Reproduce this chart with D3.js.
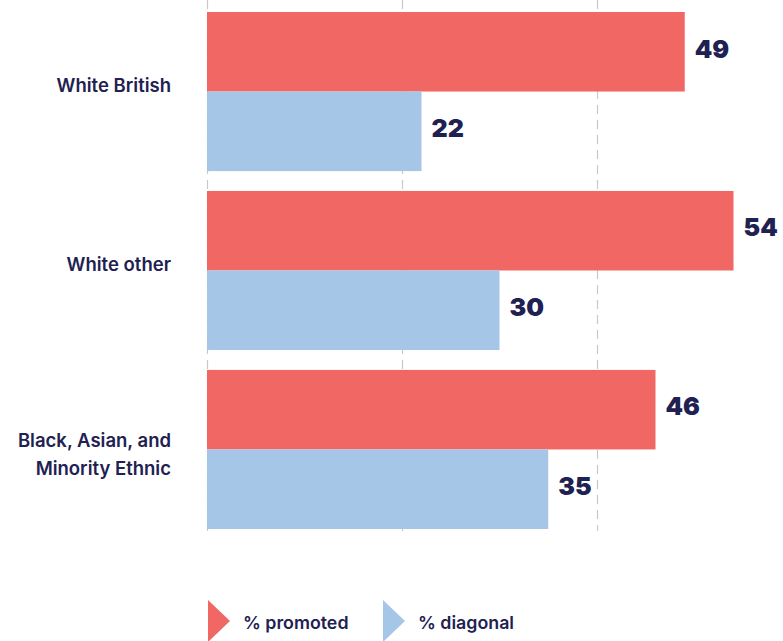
<!DOCTYPE html>
<html>
<head>
<meta charset="utf-8">
<script src="https://cdn.jsdelivr.net/npm/d3@7"></script>
<style>
  body { margin: 0; background: #fff; }
  svg text { font-family: Inter, "Noto Sans", sans-serif; }
</style>
</head>
<body>
<div id="chart"></div>
<script>
  var width = 783, height = 641;

  // data
  var groups = ["White British", "White other", "Black, Asian, and Minority Ethnic"];
  var groupLines = [["White British"], ["White other"], ["Black, Asian, and", "Minority Ethnic"]];
  var seriesNames = ["% promoted", "% diagonal"];
  var promoted = [49, 54, 46];
  var diagonal = [22, 30, 35];
  var gridTicks = [0, 20, 40];

  var colors = ["#f16764", "#a6c6e7"];
  var textColor = "#1e2151";

  var svg = d3.select("#chart").append("svg")
    .attr("width", width)
    .attr("height", height);

  var x = d3.scaleLinear()
    .domain([0, 60])
    .range([207, 207 + 60 * 9.75]);

  var y0 = d3.scaleBand()
    .domain(groups)
    .range([12, 529])
    .paddingInner(0.111);

  var y1 = d3.scaleBand()
    .domain(seriesNames)
    .range([0, y0.bandwidth()]);

  // dashed grid lines
  svg.append("g").selectAll("line")
    .data(gridTicks)
    .enter().append("line")
    .attr("x1", function(d) { return x(d) + 0.5; })
    .attr("x2", function(d) { return x(d) + 0.5; })
    .attr("y1", 0)
    .attr("y2", 531)
    .attr("stroke", "#c8c8c8")
    .attr("stroke-width", 1.2)
    .attr("stroke-dasharray", "9,6");

  var rows = groups.map(function(g, i) {
    return { group: g, values: [promoted[i], diagonal[i]] };
  });

  var grp = svg.append("g").selectAll("g")
    .data(rows)
    .enter().append("g")
    .attr("transform", function(d) { return "translate(0," + y0(d.group) + ")"; });

  grp.selectAll("rect")
    .data(function(d) { return d.values; })
    .enter().append("rect")
    .attr("x", x(0))
    .attr("y", function(d, i) { return y1(seriesNames[i]); })
    .attr("width", function(d) { return x(d) - x(0); })
    .attr("height", y1.bandwidth())
    .attr("fill", function(d, i) { return colors[i]; });

  grp.selectAll("text.val")
    .data(function(d) { return d.values; })
    .enter().append("text")
    .attr("class", "val")
    .attr("x", function(d) { return x(d) + 10; })
    .attr("y", function(d, i) { return y1(seriesNames[i]) + y1.bandwidth() / 2 - 3; })
    .attr("dy", "0.35em")
    .attr("font-family", "Lato, sans-serif")
    .attr("font-weight", 900)
    .attr("font-size", "25px")
    .attr("fill", textColor)
    .text(function(d) { return d; });

  // category labels
  svg.append("g").selectAll("text")
    .data(groupLines)
    .enter().append("text")
    .attr("text-anchor", "end")
    .attr("font-size", "18.5px")
    .attr("font-weight", 600)
    .attr("fill", textColor)
    .attr("transform", function(d, i) {
      return "translate(171," + (y0(groups[i]) + y0.bandwidth() / 2 - 6 - (d.length - 1) * 3) + ")";
    })
    .selectAll("tspan")
    .data(function(d) { return d; })
    .enter().append("tspan")
    .attr("x", 0)
    .attr("dy", function(d, i) { return i === 0 ? "0.35em" : "28px"; })
    .text(function(d) { return d; });

  // legend
  var legend = svg.append("g").selectAll("g")
    .data(seriesNames)
    .enter().append("g")
    .attr("transform", function(d, i) { return "translate(" + (208 + i * 175) + ",600)"; });

  legend.append("path")
    .attr("d", "M0,0 L22,21 L0,42 Z")
    .attr("fill", function(d, i) { return colors[i]; });

  legend.append("text")
    .attr("x", 35)
    .attr("y", 23)
    .attr("dy", "0.35em")
    .attr("font-size", "17.8px")
    .attr("font-weight", 600)
    .attr("fill", textColor)
    .text(function(d) { return d; });
</script>
</body>
</html>
